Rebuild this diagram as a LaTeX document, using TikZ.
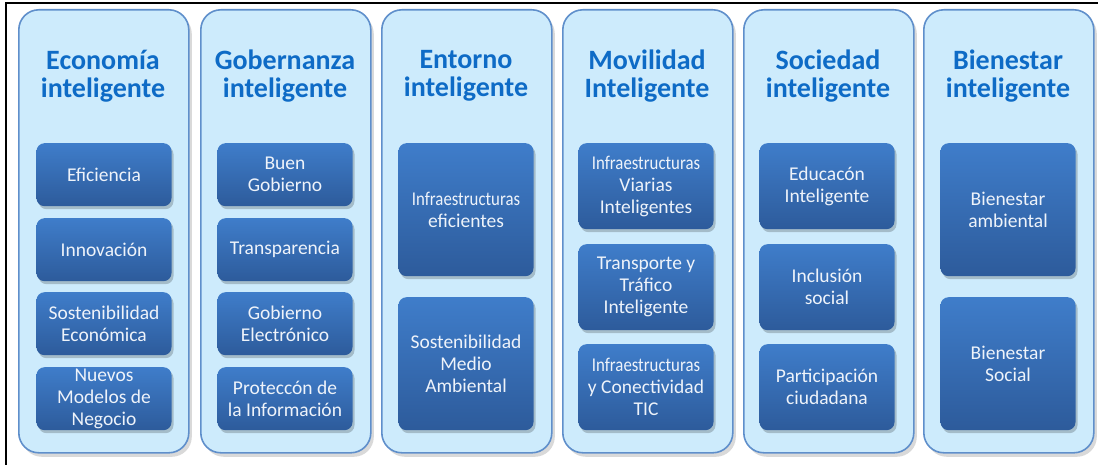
\documentclass[tikz,border=0pt]{standalone}
\usepackage{fontspec}
\setmainfont{Carlito}
\usetikzlibrary{shadows}
\definecolor{colfill}{HTML}{CDEBFC}
\definecolor{colborder}{HTML}{5F8FCB}
\definecolor{titleblue}{HTML}{0E6BC6}
\definecolor{boxtop}{HTML}{3F7DCA}
\definecolor{boxbot}{HTML}{2D5B9B}
\definecolor{boxtext}{HTML}{EEF3FA}
\newcommand{\narrow}[1]{\scalebox{0.86}[1]{#1}}
\begin{document}
\begin{tikzpicture}[x=1pt,y=-1pt,
  column/.style={draw=colborder, line width=1.6pt, fill=colfill, rounded corners=20pt,
    minimum width=170pt, minimum height=443pt, anchor=north west, inner sep=0pt,
    drop shadow={shadow xshift=3pt, shadow yshift=-4pt, opacity=0.15, fill=black}},
  title/.style={text=titleblue, font=\bfseries\fontsize{28}{28.5}\selectfont, align=center, inner sep=0pt},
  item/.style={rounded corners=8pt, top color=boxtop, bottom color=boxbot, text=boxtext,
    font=\fontsize{19.5}{22}\selectfont, align=center, minimum width=135pt, inner sep=0pt,
    anchor=north, drop shadow={shadow xshift=2pt, shadow yshift=-3pt, opacity=0.2, fill=black}},
  frameline/.style={draw=black, line width=1.8pt}]
\useasboundingbox (0,0) rectangle (1098,465);
% frame (top and left edges)
\coordinate (ftr) at (1098,3);
\coordinate (ftl) at (6,3);
\coordinate (fbl) at (6,465);
\draw[frameline] (ftr) -- (ftl) -- (fbl);
% columns
\node[column] (c1) at (18,9) {};
\node[column] (c2) at (200,9) {};
\node[column] (c3) at (381,9) {};
\node[column] (c4) at (562,9) {};
\node[column] (c5) at (743,9) {};
\node[column] (c6) at (923,9) {};
% titles
\node[title] (t1) at (103,76) {Economía\\inteligente};
\node[title] (t2) at (285,76) {Gobernanza\\inteligente};
\node[title] (t3) at (466,76) {Entorno\\inteligente};
\node[title] (t4) at (647,76) {Movilidad\\Inteligente};
\node[title] (t5) at (828,76) {Sociedad\\inteligente};
\node[title] (t6) at (1008,76) {Bienestar\\inteligente};
% column 1
\node[item, minimum height=63pt] (a1) at (104,143) {Eficiencia};
\node[item, minimum height=63pt] (a2) at (104,218) {Innovación};
\node[item, minimum height=63pt] (a3) at (104,292) {Sostenibilidad\\Económica};
\node[item, minimum height=63pt] (a4) at (104,367) {Nuevos\\Modelos de\\Negocio};
% column 2
\node[item, minimum height=63pt] (b1) at (285,143) {Buen\\Gobierno};
\node[item, minimum height=63pt] (b2) at (285,218) {Transparencia};
\node[item, minimum height=63pt] (b3) at (285,292) {Gobierno\\Electrónico};
\node[item, minimum height=63pt] (b4) at (285,367) {Proteccón de\\la Información};
% column 3
\node[item, minimum height=133pt] (d1) at (466,143) {\narrow{Infraestructuras}\\eficientes};
\node[item, minimum height=133pt] (d2) at (466,297) {Sostenibilidad\\Medio\\Ambiental};
% column 4
\node[item, minimum height=86pt] (m1) at (646,143) {\narrow{Infraestructuras}\\Viarias\\Inteligentes};
\node[item, minimum height=86pt] (m2) at (646,244) {Transporte y\\Tráfico\\Inteligente};
\node[item, minimum height=86pt] (m3) at (646,344) {\narrow{Infraestructuras}\\y Conectividad\\TIC};
% column 5
\node[item, minimum height=86pt] (s1) at (827,143) {Educacón\\Inteligente};
\node[item, minimum height=86pt] (s2) at (827,244) {Inclusión\\social};
\node[item, minimum height=86pt] (s3) at (827,344) {Participación\\ciudadana};
% column 6
\node[item, minimum height=133pt] (w1) at (1008,143) {Bienestar\\ambiental};
\node[item, minimum height=133pt] (w2) at (1008,297) {Bienestar\\Social};
\end{tikzpicture}
\end{document}
